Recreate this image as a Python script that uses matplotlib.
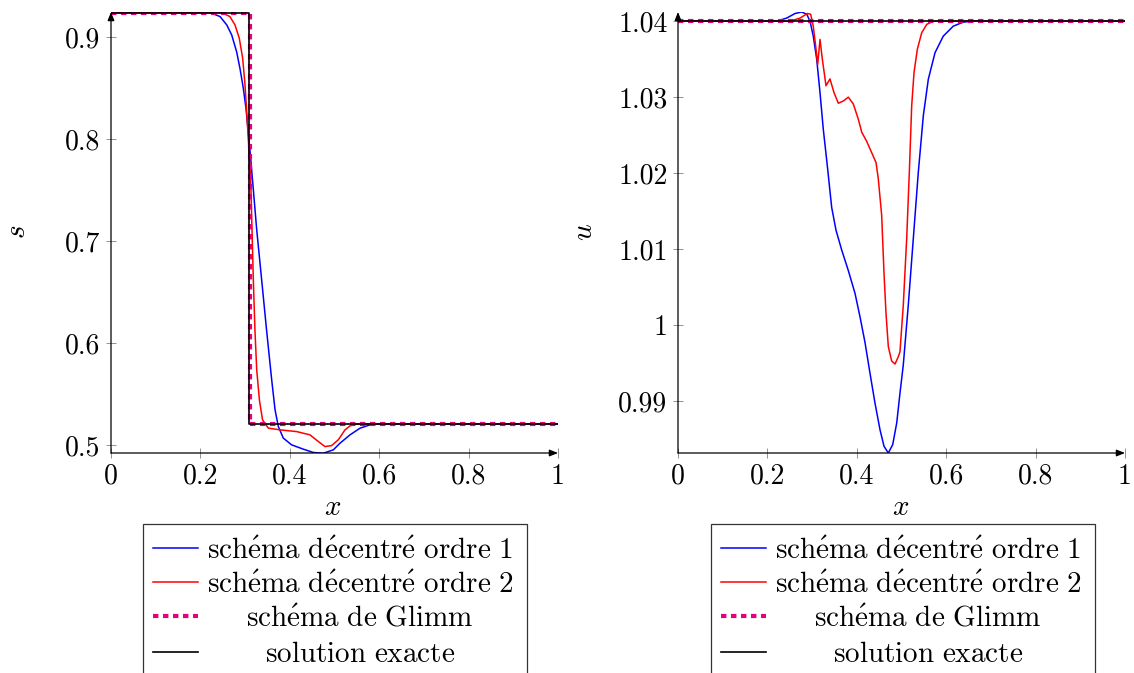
import matplotlib
matplotlib.use('Agg')
import matplotlib.pyplot as plt
from matplotlib.lines import Line2D
from matplotlib.patches import Rectangle
from matplotlib.ticker import FixedLocator, FuncFormatter

plt.rcParams['mathtext.fontset'] = 'cm'
plt.rcParams['font.family'] = ['cmr10', 'DejaVu Serif']
plt.rcParams['axes.formatter.use_mathtext'] = True

# ---- donnees ----
# solution exacte / Glimm (s et u)
x_exact_s = [0.0, 0.309, 0.309, 1.0]
s_exact = [0.924, 0.924, 0.5206, 0.5206]
x_glimm_s = [0.0, 0.3105, 0.3105, 1.0]
s_glimm = [0.924, 0.924, 0.5206, 0.5206]
x_exact_u = [0.0, 1.0]
u_exact = [1.04, 1.04]
u_glimm = [1.04, 1.04]

# schema decentre ordre 1 (s)
x_o1_s = [0.0, 0.2215, 0.244, 0.259, 0.270, 0.281, 0.2886, 0.296, 0.302, 0.307, 0.3125,
          0.326, 0.337, 0.348, 0.3595, 0.367, 0.3743, 0.3855, 0.404, 0.430, 0.4526, 0.475,
          0.4974, 0.5123, 0.5347, 0.557, 0.5794, 0.5943, 1.0]
s_o1 = [0.924, 0.924, 0.920, 0.9118, 0.902, 0.8856, 0.869, 0.8497, 0.830, 0.807, 0.781,
        0.7108, 0.662, 0.6127, 0.5637, 0.5343, 0.518, 0.5066, 0.500, 0.4958, 0.4925, 0.4918,
        0.4951, 0.5016, 0.5098, 0.5163, 0.5196, 0.5206, 0.5206]
# schema decentre ordre 2 (s)
x_o2_s = [0.0, 0.2476, 0.266, 0.2774, 0.287, 0.2946, 0.2998, 0.3035, 0.308, 0.3125, 0.3155,
          0.3184, 0.322, 0.326, 0.332, 0.339, 0.352, 0.378, 0.4154, 0.445, 0.464, 0.4787,
          0.4937, 0.5086, 0.5235, 0.5347, 0.5455, 0.56, 1.0]
s_o2 = [0.924, 0.924, 0.920, 0.9118, 0.8987, 0.879, 0.853, 0.8268, 0.794, 0.760, 0.710,
        0.662, 0.6127, 0.5735, 0.544, 0.5245, 0.5164, 0.5147, 0.513, 0.5098, 0.5032, 0.4983,
        0.4993, 0.505, 0.5147, 0.5186, 0.5203, 0.5206, 0.5206]

# schema decentre ordre 1 (u)
x_o1_u = [0.0, 0.2208, 0.2431, 0.2617, 0.2767, 0.288, 0.2953, 0.3027, 0.3103, 0.3177,
          0.325, 0.334, 0.3438, 0.3535, 0.3662, 0.381, 0.396, 0.4072, 0.4183, 0.4295,
          0.4407, 0.4519, 0.4609, 0.4705, 0.4803, 0.4893, 0.4966, 0.504, 0.5152, 0.5264,
          0.5376, 0.5488, 0.56, 0.575, 0.5935, 0.6159, 0.6383, 0.661, 1.0]
u_o1 = [1.04, 1.04, 1.0404, 1.0410, 1.0412, 1.0409, 1.0400, 1.0380, 1.0350, 1.0306,
        1.0258, 1.0210, 1.0155, 1.0125, 1.0099, 1.0072, 1.0042, 1.0011, 0.99776, 0.9937,
        0.98976, 0.98626, 0.98408, 0.9832, 0.9843, 0.98715, 0.99107, 0.99478, 1.00265, 1.01139,
        1.02012, 1.02755, 1.03236, 1.03585, 1.03803, 1.03934, 1.03987, 1.04, 1.04]
# schema decentre ordre 2 (u)
x_o2_u = [0.0, 0.2506, 0.273, 0.2893, 0.2968, 0.3027, 0.308, 0.3125, 0.3177, 0.3229,
          0.3311, 0.340, 0.349, 0.3587, 0.370, 0.381, 0.3922, 0.4034, 0.411, 0.422,
          0.4333, 0.443, 0.448, 0.4556, 0.4609, 0.4653, 0.4705, 0.478, 0.4855, 0.4929,
          0.4966, 0.504, 0.5116, 0.5175, 0.5228, 0.528, 0.5354, 0.5452, 0.5564, 0.5712, 1.0]
u_o2 = [1.04, 1.04, 1.0404, 1.0410, 1.0409, 1.0393, 1.0367, 1.0343, 1.0376, 1.0350,
        1.0315, 1.0324, 1.0306, 1.0292, 1.0295, 1.0300, 1.0291, 1.0271, 1.0254, 1.0242,
        1.0227, 1.0214, 1.0193, 1.0145, 1.0068, 1.0016, 0.9972, 0.9953, 0.9949, 0.99587,
        0.99653, 1.00265, 1.01139, 1.02012, 1.02886, 1.03323, 1.03629, 1.03847, 1.03957, 1.04,
        1.04]

x_ticks = [0, 0.2, 0.4, 0.6, 0.8, 1]
s_ticks = [0.5, 0.6, 0.7, 0.8, 0.9]
u_ticks = [0.99, 1.0, 1.01, 1.02, 1.03, 1.04]

legend_labels = [r'$\mathrm{sch\acute{e}ma\ d\acute{e}centr\acute{e}\ ordre\ 1}$',
                 r'$\mathrm{sch\acute{e}ma\ d\acute{e}centr\acute{e}\ ordre\ 2}$',
                 r'$\mathrm{sch\acute{e}ma\ de\ Glimm}$',
                 r'$\mathrm{solution\ exacte}$']

BLUE = '#0000ff'
RED = '#ff0000'
PINK = '#e6007e'
styles = [dict(color=BLUE, lw=1.1),
          dict(color=RED, lw=1.1),
          dict(color=PINK, lw=3.0, ls=(0, (1.3, 1.1))),
          dict(color='black', lw=1.2)]

W, H = 1134, 673
fig = plt.figure(figsize=(W / 100, H / 100), dpi=100)


def fx(p):
    return p / W


def fy(p):
    return 1 - p / H


fmt = FuncFormatter(lambda v, pos: '%g' % round(v, 4))


def setup(ax, ylim, yticks):
    ax.set_xlim(0, 1)
    ax.set_ylim(*ylim)
    for sp in ax.spines.values():
        sp.set_visible(False)
    for tip in [(1, 0), (0, 1)]:
        ax.annotate('', xy=tip, xytext=(0, 0), xycoords='axes fraction',
                    arrowprops=dict(arrowstyle='-|>,head_length=0.5,head_width=0.2',
                                    lw=0.9, color='black', shrinkA=0, shrinkB=0))
    ax.xaxis.set_major_locator(FixedLocator(x_ticks))
    ax.yaxis.set_major_locator(FixedLocator(yticks))
    ax.xaxis.set_major_formatter(fmt)
    ax.yaxis.set_major_formatter(fmt)
    ax.tick_params(direction='inout', length=7, width=0.6, color='0.5',
                   labelsize=20, pad=4)


ax1 = fig.add_axes([fx(111), fy(453), 447 / W, 441 / H])
ax2 = fig.add_axes([fx(678), fy(453), 447 / W, 441 / H])

ax1.plot(x_o1_s, s_o1, **styles[0])
ax1.plot(x_o2_s, s_o2, **styles[1])
ax1.plot(x_glimm_s, s_glimm, **styles[2])
ax1.plot(x_exact_s, s_exact, **styles[3])
setup(ax1, (0.492, 0.9245), s_ticks)

ax2.plot(x_o1_u, u_o1, **styles[0])
ax2.plot(x_o2_u, u_o2, **styles[1])
ax2.plot(x_exact_u, u_glimm, **styles[2])
ax2.plot(x_exact_u, u_exact, **styles[3])
setup(ax2, (0.9832, 1.0412), u_ticks)

# labels d'axes
fig.text(fx(333), fy(508), r'$x$', fontsize=21, ha='center', va='center')
fig.text(fx(901), fy(508), r'$x$', fontsize=21, ha='center', va='center')
fig.text(fx(18), fy(232), r'$s$', fontsize=21, ha='center', va='center', rotation=90)
fig.text(fx(585), fy(232), r'$u$', fontsize=21, ha='center', va='center', rotation=90)

# legendes (sous chaque graphe)
rows = [548, 582, 616, 652]
for off in [0, 568]:
    fig.add_artist(Rectangle((fx(143 + off), fy(700)), 384 / W, 176 / H,
                             transform=fig.transFigure, fill=False,
                             edgecolor='0.2', lw=0.9, clip_on=False))
    for r, lab, st in zip(rows, legend_labels, styles):
        fig.add_artist(Line2D([fx(153 + off), fx(198 + off)], [fy(r), fy(r)],
                              transform=fig.transFigure, **st))
        fig.text(fx(360 + off), fy(r), lab, fontsize=21, ha='center',
                 va='center_baseline')

fig.savefig('out.png', dpi=100)
